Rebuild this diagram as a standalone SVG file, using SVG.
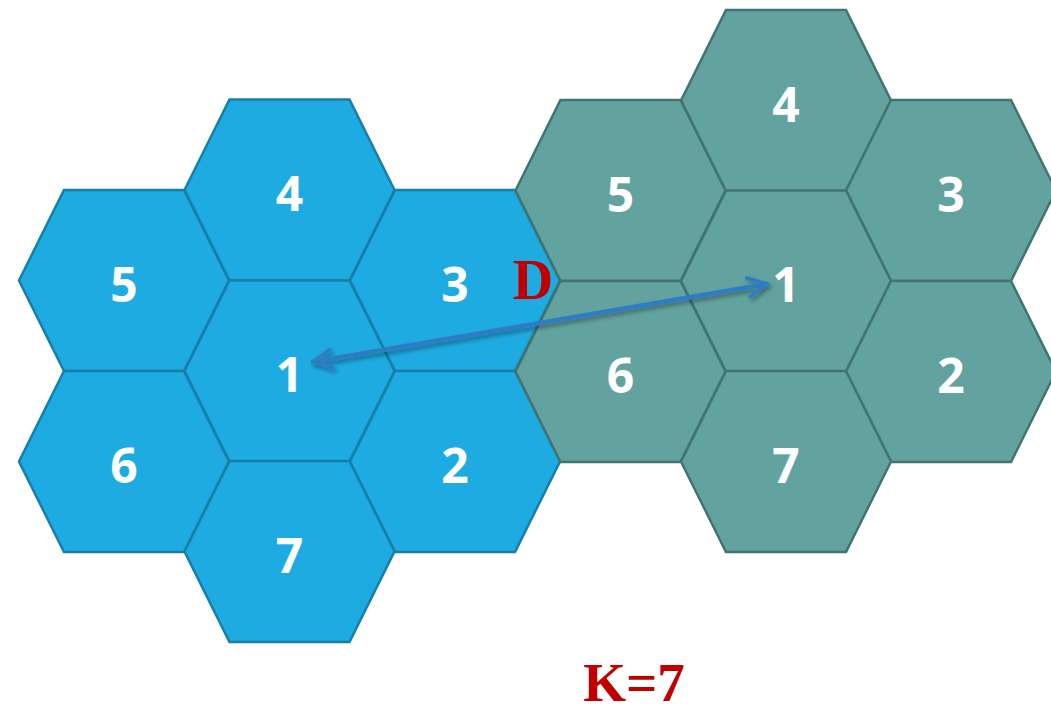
<svg xmlns="http://www.w3.org/2000/svg" xmlns:xlink="http://www.w3.org/1999/xlink" width="1051" height="713" viewBox="0 0 1051 713">
<style>
.blue{fill:#1EABE2;stroke:#177FA7;stroke-width:2.5}
.green{fill:#62A39F;stroke:#41746F;stroke-width:2.5}
.num{font-family:"Open Sans","Liberation Sans",sans-serif;font-weight:bold;font-size:48px;fill:#FFFFFF;text-anchor:middle}
.red{font-family:"Liberation Serif","Times New Roman",serif;font-weight:bold;fill:#C00000;text-anchor:middle}
.arrow{fill:none;stroke:#2E7BC4;stroke-width:4.5;stroke-linecap:round;stroke-linejoin:round}
</style>
<defs>
<polygon id="hex" points="-105,0 -60,-90.5 60,-90.5 105,0 60,90.5 -60,90.5"/>
<marker id="head" viewBox="0 0 12 12" refX="11" refY="6" markerWidth="5" markerHeight="5" orient="auto-start-reverse" markerUnits="strokeWidth">
<path d="M1,1 L11,6 L1,11" fill="none" stroke="#2E7BC4" stroke-width="2" stroke-linecap="round" stroke-linejoin="round"/>
</marker>
<filter id="sh" x="-10%" y="-50%" width="120%" height="200%">
<feDropShadow dx="2" dy="3" stdDeviation="2" flood-color="#000" flood-opacity="0.35"/>
</filter>
</defs>
<g id="blue-cluster">
<g id="b4"><use xlink:href="#hex" class="blue" x="289.5" y="190"/><text class="num" x="289.5" y="211">4</text></g>
<g id="b5"><use xlink:href="#hex" class="blue" x="124" y="280.5"/><text class="num" x="124" y="301.5">5</text></g>
<g id="b3"><use xlink:href="#hex" class="blue" x="455" y="280.5"/><text class="num" x="455" y="301.5">3</text></g>
<g id="b1"><use xlink:href="#hex" class="blue" x="289.5" y="371"/><text class="num" x="289.5" y="392">1</text></g>
<g id="b6"><use xlink:href="#hex" class="blue" x="124" y="461.5"/><text class="num" x="124" y="482.5">6</text></g>
<g id="b2"><use xlink:href="#hex" class="blue" x="455" y="461.5"/><text class="num" x="455" y="482.5">2</text></g>
<g id="b7"><use xlink:href="#hex" class="blue" x="289.5" y="551.5"/><text class="num" x="289.5" y="572.5">7</text></g>
</g>
<g id="green-cluster">
<g id="g4"><use xlink:href="#hex" class="green" x="786" y="100.5"/><text class="num" x="786" y="121.5">4</text></g>
<g id="g5"><use xlink:href="#hex" class="green" x="620.5" y="190.5"/><text class="num" x="620.5" y="211.5">5</text></g>
<g id="g3"><use xlink:href="#hex" class="green" x="951" y="190.5"/><text class="num" x="951" y="211.5">3</text></g>
<g id="g1"><use xlink:href="#hex" class="green" x="786" y="281"/><text class="num" x="786" y="302">1</text></g>
<g id="g6"><use xlink:href="#hex" class="green" x="620.5" y="371.5"/><text class="num" x="620.5" y="392.5">6</text></g>
<g id="g2"><use xlink:href="#hex" class="green" x="951" y="371.5"/><text class="num" x="951" y="392.5">2</text></g>
<g id="g7"><use xlink:href="#hex" class="green" x="786" y="461.5"/><text class="num" x="786" y="482.5">7</text></g>
</g>
<g id="connectors">
<line class="arrow" x1="313" y1="362" x2="767" y2="284" marker-start="url(#head)" marker-end="url(#head)" filter="url(#sh)"/>
</g>
<text class="red" x="533" y="299" font-size="56">D</text>
<text class="red" x="634" y="701" font-size="55">K=7</text>
</svg>
